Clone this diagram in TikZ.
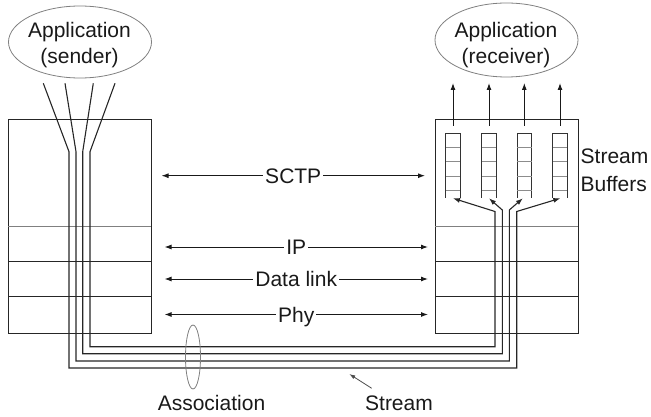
\documentclass[tikz,border=0pt]{standalone}
\usepackage{fontspec}
\setmainfont{Liberation Sans}
\usetikzlibrary{shapes.geometric,arrows.meta}
\begin{document}
\begin{tikzpicture}[x=1pt,y=-1pt,
  lbl/.style={font=\fontsize{21}{27}\selectfont, inner sep=0pt, text=black!90},
  gaplbl/.style={lbl, fill=white, inner xsep=2pt, inner ysep=0pt, text height=15pt, text depth=0pt},
  box/.style={draw=black!85, line width=1.1pt},
  graybox/.style={draw=black!50, line width=0.9pt},
  oval/.style={ellipse, draw=black!50, line width=0.8pt, inner sep=0pt},
  tip/.style={-{Latex[length=7pt,width=5pt]}, draw=black!90, line width=1pt},
  dbl/.style={{Latex[length=7pt,width=5pt]}-{Latex[length=7pt,width=5pt]}, draw=black!90, line width=1pt},
  strm/.style={draw=black!85, line width=1.1pt, -{Latex[length=7pt,width=5pt]}},
  rung/.style={draw=black!45, line width=0.9pt},
  rail/.style={draw=black!80, line width=0.9pt},
]
\useasboundingbox (0,0) rectangle (651,417);

% application ellipses
\node[oval, minimum width=143pt, minimum height=72pt] (appS) at (80,42) {};
\node[lbl, anchor=base] (appS1) at (79.5,37.3) {Application};
\node[lbl, anchor=base] (appS2) at (79.5,64) {(sender)};
\node[oval, minimum width=143pt, minimum height=74pt] (appR) at (506.5,40) {};
\node[lbl, anchor=base] (appR1) at (506,37.3) {Application};
\node[lbl, anchor=base] (appR2) at (506,63.5) {(receiver)};

% protocol stacks
\node[box, anchor=north west, minimum width=142.7pt, minimum height=213.4pt, inner sep=0pt] (L) at (8,119.3) {};
\node[box, anchor=north west, minimum width=142.7pt, minimum height=213.4pt, inner sep=0pt] (R) at (435,119.3) {};
\draw[graybox] (8,226) -- (150.7,226);
\draw[box] (8,261.3) -- (150.7,261.3);
\draw[box] (8,296.7) -- (150.7,296.7);
\draw[graybox] (435,226) -- (577.7,226);
\draw[box] (435,261.3) -- (577.7,261.3);
\draw[box] (435,296.7) -- (577.7,296.7);

% stream buffers and up arrows
\foreach \cx/\n in {453/1,489/2,524.3/3,560/4}{
  \coordinate (b\n) at (\cx,198.3);
  \coordinate (u\n) at (\cx,126);
  \coordinate (v\n) at (\cx,83);
  \draw[rail] (\cx-7.2,133.3) -- (\cx-7.2,197.7);
  \draw[rail] (\cx+7.2,133.3) -- (\cx+7.2,197.7);
  \draw[rail] (\cx-7.2,133.3) -- (\cx+7.2,133.3);
  \foreach \y in {147.5,161.8,176,190.3}{
    \draw[rung] (\cx-7.2,\y) -- (\cx+7.2,\y);
  }
  \draw[tip] (u\n) -- (v\n);
}

% streams
\coordinate (s1a) at (43.3,83.3);  \coordinate (s1b) at (69,151.7);
\coordinate (s2a) at (65,83.3);    \coordinate (s2b) at (76,151.7);
\coordinate (s3a) at (93.3,83.3);  \coordinate (s3b) at (82.7,151.7);
\coordinate (s4a) at (115,83.3);   \coordinate (s4b) at (90,151.7);
\draw[strm] (s1a) -- (s1b) -- (69,368) -- (516.7,368) -- (516.7,211.5) -- ([xshift=0.3pt]b4);
\draw[strm] (s2a) -- (s2b) -- (76,361) -- (509.3,361) -- (509.3,210) -- ([xshift=-1.5pt]b3);
\draw[strm] (s3a) -- (s3b) -- (82.7,353.7) -- (502.3,353.7) -- (502.3,210) -- (b2);
\draw[strm] (s4a) -- (s4b) -- (90,346.7) -- (495,346.7) -- (495,211.5) -- (b1);

% peer arrows
\coordinate (sctpL) at (161.5,175.7); \coordinate (sctpR) at (425,175.7);
\coordinate (ipL) at (164.5,247);     \coordinate (ipR) at (428,247);
\coordinate (dlL) at (164.5,279);     \coordinate (dlR) at (428,279);
\coordinate (phL) at (164.5,314.5);   \coordinate (phR) at (428,314.5);
\draw[dbl] (sctpL) -- node[gaplbl] (sctp) {SCTP} (sctpR);
\draw[dbl] (ipL) -- node[gaplbl] (ip) {IP} (ipR);
\draw[dbl] (dlL) -- node[gaplbl] (dl) {Data link} (dlR);
\draw[dbl] (phL) -- node[gaplbl] (ph) {Phy} (phR);

% association and stream labels
\node[oval, minimum width=15pt, minimum height=64pt] (assoc) at (193,357) {};
\node[lbl, anchor=base] (assocT) at (211.5,410) {Association};
\node[lbl, anchor=base] (streamT) at (399,410) {Stream};
\coordinate (stTail) at (371.7,388.3);
\coordinate (stHead) at (349.3,374);
\draw[-{Latex[length=6pt,width=4pt]}, draw=black!70, line width=0.8pt] (stTail) -- (stHead);

\node[lbl, anchor=base west] (sb1) at (580.5,163.3) {Stream};
\node[lbl, anchor=base west] (sb2) at (580.5,191.7) {Buffers};
\end{tikzpicture}
\end{document}
